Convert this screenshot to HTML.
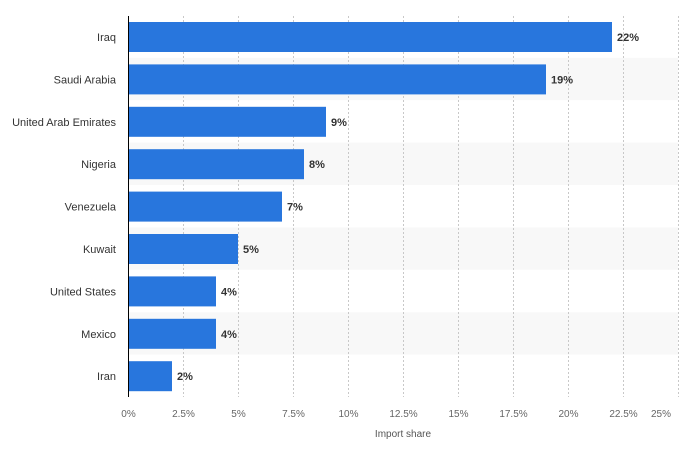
<!DOCTYPE html>
<html><head><meta charset="utf-8"><style>
html,body{margin:0;padding:0;background:#fff;width:685px;height:450px;overflow:hidden}
text{font-family:"Liberation Sans",sans-serif}
</style></head><body>
<svg width="685" height="450" xmlns="http://www.w3.org/2000/svg">
<g fill="#f8f8f8">
<rect x="129" y="57.8" width="549" height="42.4"/>
<rect x="129" y="142.6" width="549" height="42.4"/>
<rect x="129" y="227.4" width="549" height="42.4"/>
<rect x="129" y="312.2" width="549" height="42.4"/>
</g>
<g stroke="#c8c8c8" stroke-width="1" stroke-dasharray="2,2">
<line x1="183.5" y1="16" x2="183.5" y2="397"/>
<line x1="238.5" y1="16" x2="238.5" y2="397"/>
<line x1="293.5" y1="16" x2="293.5" y2="397"/>
<line x1="348.5" y1="16" x2="348.5" y2="397"/>
<line x1="403.5" y1="16" x2="403.5" y2="397"/>
<line x1="458.5" y1="16" x2="458.5" y2="397"/>
<line x1="513.5" y1="16" x2="513.5" y2="397"/>
<line x1="568.5" y1="16" x2="568.5" y2="397"/>
<line x1="623.5" y1="16" x2="623.5" y2="397"/>
<line x1="678.5" y1="16" x2="678.5" y2="397"/>
</g>
<g fill="#2876dd">
<rect x="129" y="22" width="483" height="30"/>
<rect x="129" y="64.4" width="417" height="30"/>
<rect x="129" y="106.8" width="197" height="30"/>
<rect x="129" y="149.2" width="175" height="30"/>
<rect x="129" y="191.6" width="153" height="30"/>
<rect x="129" y="234" width="109" height="30"/>
<rect x="129" y="276.4" width="87" height="30"/>
<rect x="129" y="318.8" width="87" height="30"/>
<rect x="129" y="361.2" width="43" height="30"/>
</g>
<line x1="128.5" y1="16" x2="128.5" y2="397" stroke="#000" stroke-width="1"/>
<g font-size="11" fill="#333" text-anchor="end">
<text x="116" y="41">Iraq</text>
<text x="116" y="83.4">Saudi Arabia</text>
<text x="116" y="125.8">United Arab Emirates</text>
<text x="116" y="168.2">Nigeria</text>
<text x="116" y="210.6">Venezuela</text>
<text x="116" y="253">Kuwait</text>
<text x="116" y="295.4">United States</text>
<text x="116" y="337.8">Mexico</text>
<text x="116" y="380.2">Iran</text>
</g>
<g font-size="11" fill="#333" font-weight="bold">
<text x="617" y="41">22%</text>
<text x="551" y="83.4">19%</text>
<text x="331" y="125.8">9%</text>
<text x="309" y="168.2">8%</text>
<text x="287" y="210.6">7%</text>
<text x="243" y="253">5%</text>
<text x="221" y="295.4">4%</text>
<text x="221" y="337.8">4%</text>
<text x="177" y="380.2">2%</text>
</g>
<g font-size="10" fill="#666" text-anchor="middle">
<text x="128.5" y="417">0%</text>
<text x="183.5" y="417">2.5%</text>
<text x="238.5" y="417">5%</text>
<text x="293.5" y="417">7.5%</text>
<text x="348.5" y="417">10%</text>
<text x="403.5" y="417">12.5%</text>
<text x="458.5" y="417">15%</text>
<text x="513.5" y="417">17.5%</text>
<text x="568.5" y="417">20%</text>
<text x="623.5" y="417">22.5%</text>
<text x="661" y="417">25%</text>
</g>
<text x="403" y="437" font-size="10" fill="#555" text-anchor="middle">Import share</text>
</svg>
</body></html>
